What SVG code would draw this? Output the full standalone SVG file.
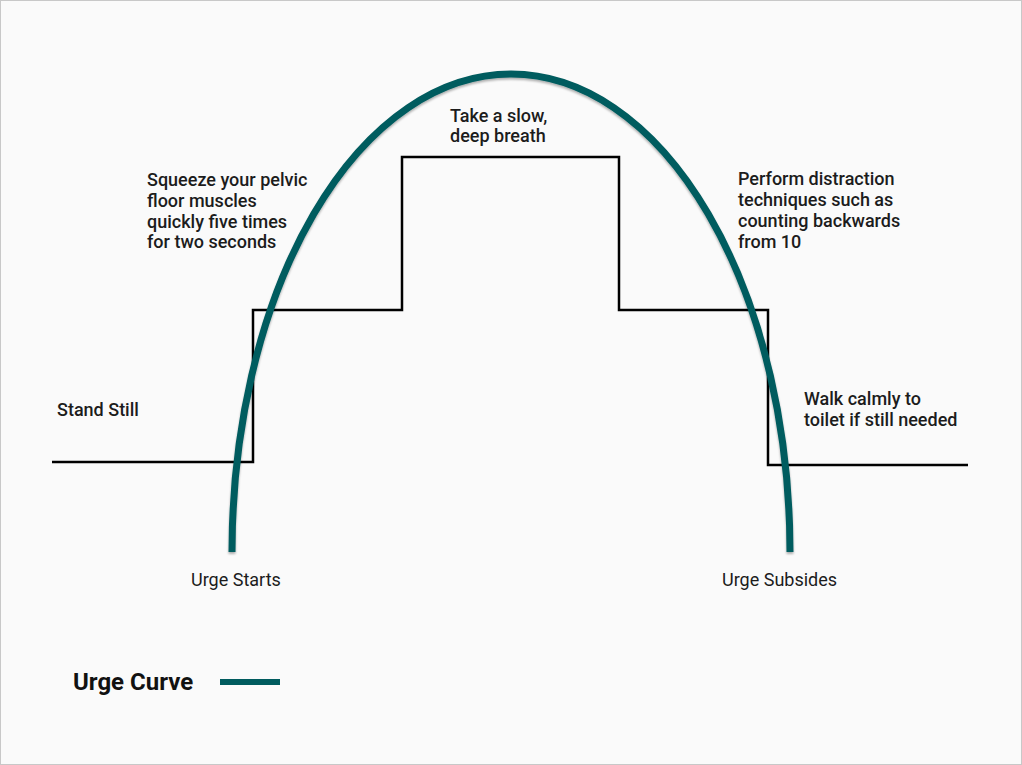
<svg xmlns="http://www.w3.org/2000/svg" width="1022" height="765" viewBox="0 0 1022 765">
<style>
.lbl{font-family:Roboto,"Liberation Sans",sans-serif;font-size:18px;font-weight:500;fill:#1c1c1c}
.axis{font-family:Roboto,"Liberation Sans",sans-serif;font-size:18px;font-weight:400;fill:#1c1c1c}
.legend{font-family:Roboto,"Liberation Sans",sans-serif;font-size:24px;font-weight:700;fill:#111}
.step{fill:none;stroke:#000;stroke-width:2.5}
.urge{fill:none;stroke:#005b5e;stroke-width:7}
</style>
<defs>
<filter id="sh" x="-10%" y="-10%" width="120%" height="120%">
<feDropShadow dx="0" dy="2" stdDeviation="1.2" flood-color="#000" flood-opacity="0.3"/>
</filter>
</defs>
<rect x="0.5" y="0.5" width="1021" height="764" fill="#fafafa" stroke="#c8c8c8" stroke-width="1"/>
<g id="connectors">
<path id="steps" class="step" d="M52,462 H253 V310 H402 V157 H619 V310 H768 V465 H968"/>
<path id="urge-curve" class="urge" filter="url(#sh)" d="M232,552 A279,478 0 0 1 790,552"/>
</g>
<g id="node-stand-still"><text class="lbl" x="57" y="416">Stand Still</text></g>
<g id="node-squeeze"><text class="lbl" x="147" y="186">Squeeze your pelvic</text><text class="lbl" x="147" y="207">floor muscles</text><text class="lbl" x="147" y="228">quickly five times</text><text class="lbl" x="147" y="248">for two seconds</text></g>
<g id="node-breath"><text class="lbl" x="450" y="122">Take a slow,</text><text class="lbl" x="450" y="142">deep breath</text></g>
<g id="node-distraction"><text class="lbl" x="738" y="185">Perform distraction</text><text class="lbl" x="738" y="206">techniques such as</text><text class="lbl" x="738" y="227">counting backwards</text><text class="lbl" x="738" y="248">from 10</text></g>
<g id="node-walk"><text class="lbl" x="804" y="405">Walk calmly to</text><text class="lbl" x="804" y="426">toilet if still needed</text></g>
<g id="node-urge-starts"><text class="axis" x="191" y="586">Urge Starts</text></g>
<g id="node-urge-subsides"><text class="axis" x="722" y="586">Urge Subsides</text></g>
<g id="legend"><text class="legend" x="73" y="690">Urge Curve</text><line x1="220" y1="682" x2="280" y2="682" stroke="#005b5e" stroke-width="6"/></g>
</svg>
